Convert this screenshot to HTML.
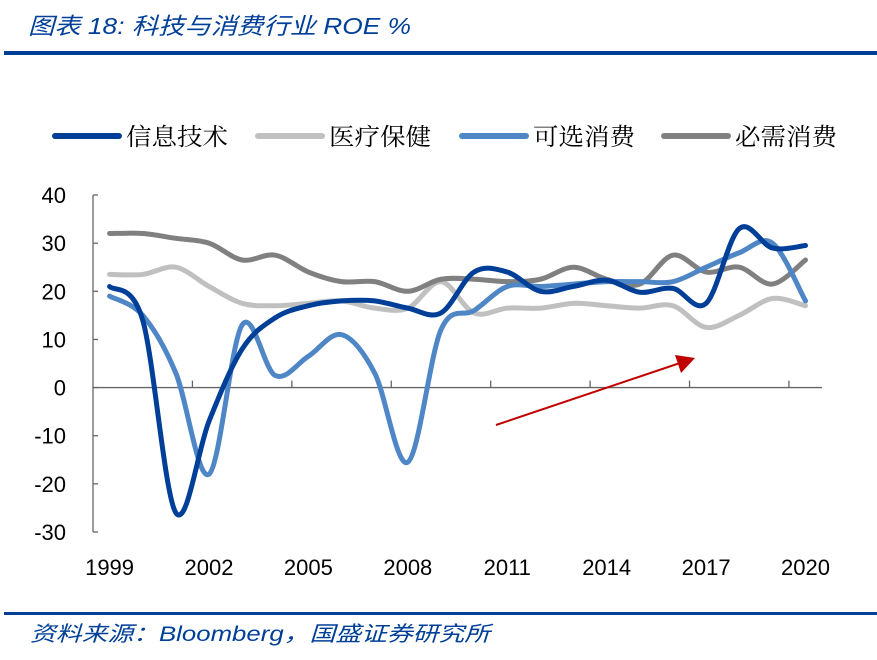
<!DOCTYPE html>
<html><head><meta charset="utf-8"><style>
body{margin:0;background:#fff;width:877px;height:660px;overflow:hidden}
svg{display:block}
</style></head><body>
<svg id="c" width="877" height="660">
<text x="28" y="34" textLength="383" lengthAdjust="spacingAndGlyphs" font-family="'Liberation Sans','Noto Sans CJK SC',sans-serif" font-style="italic" font-size="23" fill="#003f98">图表 18:  科技与消费行业 ROE %</text>
<rect x="4" y="51" width="873" height="4" fill="#003f98"/>
<g id="legend"></g>
<g id="axes"></g>
<g id="series"></g>
<g>
<line x1="496" y1="425" x2="680" y2="363" stroke="#c00000" stroke-width="2"/>
<polygon points="695,358 675,355 681,373" fill="#c00000"/>
</g>
<rect x="4" y="612" width="873" height="3" fill="#003f98"/>
<text x="30" y="641" textLength="460" lengthAdjust="spacingAndGlyphs" font-family="'Liberation Sans','Noto Sans CJK SC',sans-serif" font-style="italic" font-size="21" fill="#003f98">资料来源：Bloomberg，国盛证券研究所</text>
</svg>
<script>
const years=[1999,2000,2001,2002,2003,2004,2005,2006,2007,2008,2009,2010,2011,2012,2013,2014,2015,2016,2017,2018,2019,2020];
const xLabels=["1999","2002","2005","2008","2011","2014","2017","2020"];
const yTicks=[40,30,20,10,0,-10,-20,-30];
const seriesNames=["信息技术","医疗保健","可选消费","必需消费"];
const infoTech=[21,14,-26,-7,8,14.5,17,18,18,16.5,15.5,24,24,20,21,22.3,19.8,20.6,17.5,33,29,29.5];
const healthCare=[23.5,23.5,25,21,17.5,17,17.5,18,16.5,16.5,22,15.5,16.5,16.5,17.5,17,16.5,17,12.5,15,18.5,17];
const consDisc=[19,15,3,-18,13,2.5,6.5,11,3,-15.5,12,16,21,21,21.5,22,22,22,25,28,30,18];
const consStaples=[32,32,31,30,26.5,27.5,24,22,22,20,22.5,22.5,22,22.5,25,22.5,21.5,27.5,24,25,21.5,26.5];
const colors=["#003f98","#c0c0c0","#4f86c6","#808080"];
const NS="http://www.w3.org/2000/svg";
const x0=93,cw=33.14,yTop=195,yBot=532,vMax=40,vMin=-30;
const X=i=>x0+(i+0.5)*cw;
const Y=v=>yTop+(vMax-v)/(vMax-vMin)*(yBot-yTop);
function mk(t,a,p){const e=document.createElementNS(NS,t);for(const k in a)e.setAttribute(k,a[k]);p.appendChild(e);return e;}
const axes=document.getElementById('axes');
const font="'Liberation Sans','Noto Sans CJK SC',sans-serif";
let ya=mk('line',{x1:x0,y1:yTop,x2:x0,y2:yBot,stroke:'#666','stroke-width':1.3},axes);


yTicks.forEach(v=>{
  mk('line',{x1:x0,y1:Y(v),x2:x0+5,y2:Y(v),stroke:'#666','stroke-width':1.3},axes);
  const t=mk('text',{x:x0-27,y:Y(v)+8,'text-anchor':'end','font-family':font,'font-size':22,fill:'#000'},axes);
  t.textContent=v;
  
  
});
let xa=mk('line',{x1:x0,y1:Y(0),x2:x0+years.length*cw,y2:Y(0),stroke:'#666','stroke-width':1.3},axes);


for(let i=3;i<years.length;i+=3){mk('line',{x1:x0+i*cw,y1:Y(0),x2:x0+i*cw,y2:Y(0)-7,stroke:'#666','stroke-width':1.3},axes);}
xLabels.forEach((l,k)=>{
  const i=years.indexOf(+l);
  const t=mk('text',{x:X(i),y:575,'text-anchor':'middle','font-family':font,'font-size':22,fill:'#000'},axes);
  t.textContent=l;
  
  
});
function path(vals){
  const p=vals.map((v,i)=>[X(i),Y(v)]);
  let d=`M${p[0][0]},${p[0][1]}`;
  for(let i=0;i<p.length-1;i++){
    const a=p[Math.max(i-1,0)],b=p[i],c=p[i+1],e=p[Math.min(i+2,p.length-1)];
    const c1=[b[0]+(c[0]-a[0])/6,b[1]+(c[1]-a[1])/6],c2=[c[0]-(e[0]-b[0])/6,c[1]-(e[1]-b[1])/6];
    d+=` C${c1[0]},${c1[1]} ${c2[0]},${c2[1]} ${c[0]},${c[1]}`;
  }
  return d;
}
const sg=document.getElementById('series');
const all=[healthCare,consStaples,consDisc,infoTech];const idx=[1,3,2,0];
const snames=['line-health-care','line-consumer-staples','line-consumer-discretionary','line-info-tech'];
all.forEach((s,k)=>{
  const el=mk('path',{d:path(s),fill:'none',stroke:colors[idx[k]],'stroke-width':5,'stroke-linecap':'round','stroke-linejoin':'round'},sg);
  
  
});
const lg=document.getElementById('legend');
const lx=[55,258,462,664];
seriesNames.forEach((n,i)=>{
  const l=mk('line',{x1:lx[i],y1:136,x2:lx[i]+64,y2:136,stroke:colors[i],'stroke-width':6,'stroke-linecap':'round'},lg);
  
  
  const t=mk('text',{x:lx[i]+71,y:145,textLength:102,lengthAdjust:'spacingAndGlyphs','font-family':"'Noto Serif CJK SC','Noto Sans CJK SC',serif",'font-size':24,fill:'#000'},lg);
  t.textContent=n;
  
  
});
</script>
</body></html>
